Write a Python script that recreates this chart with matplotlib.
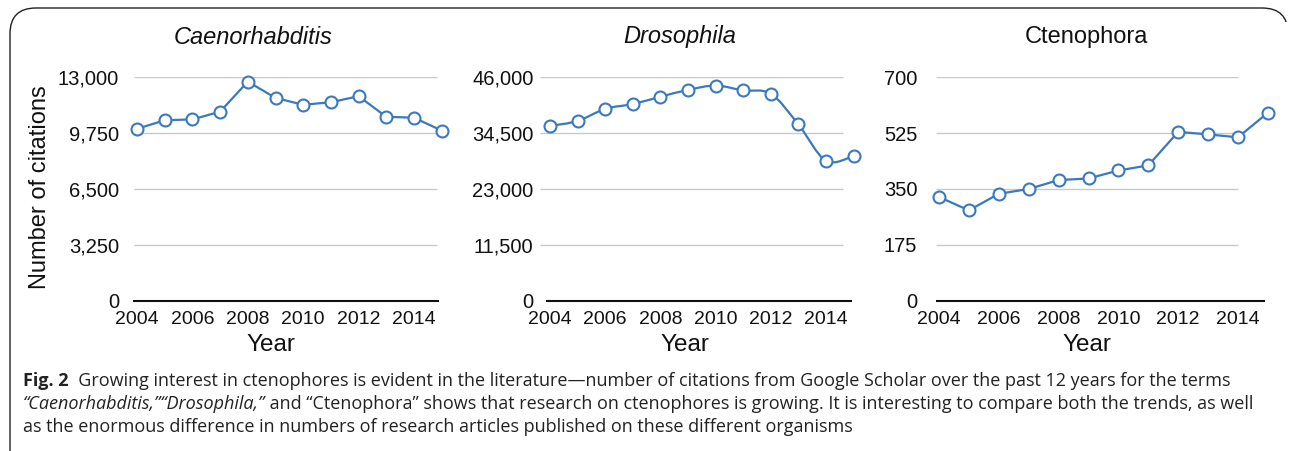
import matplotlib.pyplot as plt
from matplotlib.patches import FancyBboxPatch
from matplotlib.path import Path
from matplotlib.patches import PathPatch
from matplotlib.ticker import FuncFormatter

YEARS = [2004, 2005, 2006, 2007, 2008, 2009, 2010, 2011, 2012, 2013, 2014, 2015]
CAENO = [10000, 10500, 10550, 11000, 12750, 11800, 11400, 11550, 11900, 10700, 10650, 9900]
DROSO = [36000, 37000, 39500, 40500, 42000, 43400, 44300, 43300, 42600, 36300, 28800, 29800]
CTENO = [325, 283, 335, 350, 378, 383, 408, 424, 529, 521, 512, 589]

TITLES = ['Caenorhabditis', 'Drosophila', 'Ctenophora']
TITLE_STYLE = ['italic', 'italic', 'normal']
Y_TICKS = [
    [0, 3250, 6500, 9750, 13000],
    [0, 11500, 23000, 34500, 46000],
    [0, 175, 350, 525, 700],
]
X_TICKS = [2004, 2006, 2008, 2010, 2012, 2014]
SMOOTH = [False, True, False]

BLUE = '#3a79bd'
W, H = 1293, 451
XMIN, XMAX = 2003.6, 2015.2

plt.rcParams['font.family'] = ['Liberation Sans', 'DejaVu Sans']

fig = plt.figure(figsize=(W / 100, H / 100), dpi=100)

# pixel layout per panel: x of 2004, px per year, grid extent, baseline extent, tick pad
PANELS = [
    dict(x0=137, scale=27.7, grid=(2003.89, 2014.83), base=(2003.86, 2014.9), pad=13, title_x=253, ylab_x=271),
    dict(x0=550, scale=27.6, grid=(2003.64, 2014.62), base=(2003.86, 2014.94), pad=5, title_x=680, ylab_x=685),
    dict(x0=939, scale=29.9, grid=(2003.9, 2014.0), base=(2003.9, 2014.9), pad=16, title_x=1086, ylab_x=1087),
]
Y_TOP, Y_BOT = 77.3, 300.7


def smooth_path(xs, ys):
    verts = [(xs[0], ys[0])]
    codes = [Path.MOVETO]
    n = len(xs)
    for i in range(n - 1):
        i0, i3 = max(i - 1, 0), min(i + 2, n - 1)
        c1 = (xs[i] + (xs[i + 1] - xs[i0]) / 6, ys[i] + (ys[i + 1] - ys[i0]) / 6)
        c2 = (xs[i + 1] - (xs[i3] - xs[i]) / 6, ys[i + 1] - (ys[i3] - ys[i]) / 6)
        verts += [c1, c2, (xs[i + 1], ys[i + 1])]
        codes += [Path.CURVE4] * 3
    return Path(verts, codes)


for k, values in enumerate([CAENO, DROSO, CTENO]):
    p = PANELS[k]
    left = p['x0'] - (2004 - XMIN) * p['scale']
    right = p['x0'] + (XMAX - 2004) * p['scale']
    ax = fig.add_axes([left / W, 1 - Y_BOT / H, (right - left) / W, (Y_BOT - Y_TOP) / H])
    ax.set_xlim(XMIN, XMAX)
    ax.set_ylim(0, Y_TICKS[k][-1])
    for s in ax.spines.values():
        s.set_visible(False)

    for t in Y_TICKS[k][1:]:
        ax.hlines(t, p['grid'][0], p['grid'][1], color='#c9c9c9', lw=1.0, zorder=1)
    ax.hlines(0, p['base'][0], p['base'][1], color='#111111', lw=1.5, zorder=2, clip_on=False)

    if SMOOTH[k]:
        ax.add_patch(PathPatch(smooth_path(YEARS, values), fill=False, edgecolor=BLUE,
                               lw=1.6, zorder=3, clip_on=False))
    else:
        ax.plot(YEARS, values, color=BLUE, lw=1.6, zorder=3, clip_on=False)
    ax.plot(YEARS, values, linestyle='none', marker='o', markersize=8.6, markerfacecolor='white',
            markeredgecolor=BLUE, markeredgewidth=1.5, zorder=4, clip_on=False)

    ax.set_yticks(Y_TICKS[k])
    ax.yaxis.set_major_formatter(FuncFormatter(lambda v, pos: f'{int(v):,}'))
    ax.set_xticks(X_TICKS)
    ax.tick_params(axis='both', length=0, colors='#111111')
    ax.tick_params(axis='y', labelsize=14.5, pad=p['pad'] + (left - (p['x0'] + (p['grid'][0] - 2004) * p['scale'])))
    ax.tick_params(axis='x', labelsize=14, pad=7.5)

    fig.text(p['title_x'] / W, 1 - 37 / H, TITLES[k], fontsize=17, style=TITLE_STYLE[k],
             ha='center', va='center', color='#111111')
    fig.text(p['ylab_x'] / W, 1 - 345 / H, 'Year', fontsize=17.5, ha='center', va='center',
             color='#111111')

fig.text(40 / W, 1 - 187 / H, 'Number of citations', fontsize=17, rotation=90,
         ha='center', va='center', color='#111111')

# frame
frame = FancyBboxPatch((10 / W, -0.2), 1278 / W, 1.2 - 8 / H,
                       boxstyle='round,pad=0,rounding_size=0.02', transform=fig.transFigure,
                       fill=False, edgecolor='#222222', lw=1.0, mutation_aspect=W / H)
fig.patches.append(frame)
# hide the right side below the corner
fig.patches.append(plt.Rectangle((1280 / W, 0), 20 / W, 1 - 22 / H, transform=fig.transFigure,
                                 facecolor='white', edgecolor='none', zorder=5))

# caption
cap = fig.add_axes([0, 0, 1, 1])
cap.axis('off')
cap.set_xlim(0, 1)
cap.set_ylim(0, 1)
CAP_FONT = ['Open Sans', 'DejaVu Sans']
CAP_SIZE = 13.0
CAPTION = [
    [('Fig. 2', 'bold'), ('  Growing interest in ctenophores is evident in the literature\u2014number of '
                          'citations from Google Scholar over the past 12 years for the terms', 'normal')],
    [('\u201cCaenorhabditis,\u201d\u201cDrosophila,\u201d', 'italic'),
     (' and \u201cCtenophora\u201d shows that research on ctenophores is growing. It is interesting '
      'to compare both the trends, as well', 'normal')],
    [('as the enormous difference in numbers of research articles published on these different organisms',
      'normal')],
]
BASELINES = [386, 409, 432]

for line, base in zip(CAPTION, BASELINES):
    prev = None
    for text, st in line:
        kw = dict(fontsize=CAP_SIZE, family=CAP_FONT, color='#222222', va='baseline', ha='left',
                  fontweight='bold' if st == 'bold' else 'normal',
                  fontstyle='italic' if st == 'italic' else 'normal')
        if prev is None:
            prev = cap.text(23 / W, 1 - base / H, text, **kw)
        else:
            prev = cap.annotate(text, xy=(1, 0), xycoords=prev, va='bottom', ha='left',
                                **{k2: v for k2, v in kw.items() if k2 not in ('va', 'ha')})

fig.savefig('out.png', dpi=100)
